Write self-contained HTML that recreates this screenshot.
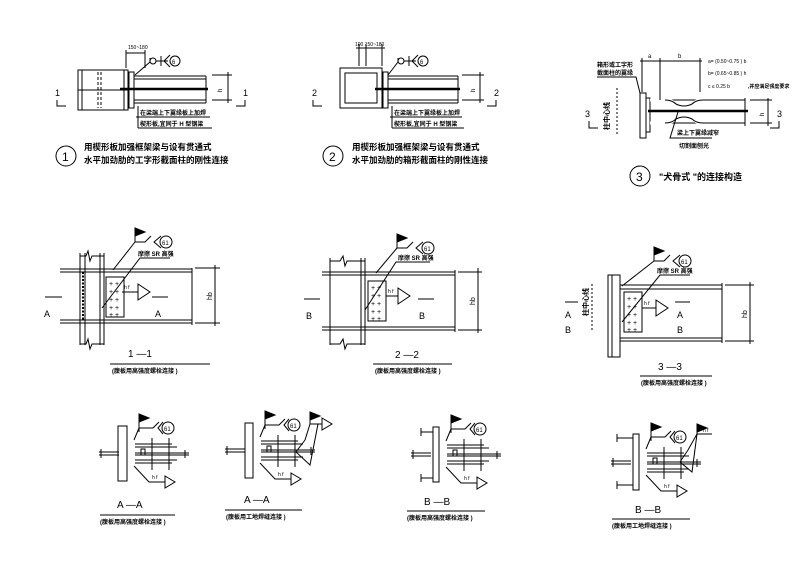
<!DOCTYPE html>
<html><head><meta charset="utf-8"><style>
html,body{margin:0;padding:0;background:#fff}
svg{display:block}
text{font-family:"Liberation Sans","Noto Sans CJK SC",sans-serif;fill:#000}
.c{font-family:"Liberation Sans","Noto Sans CJK SC",sans-serif;font-weight:bold}
</style></head><body>
<svg width="800" height="568" viewBox="0 0 800 568" xmlns="http://www.w3.org/2000/svg" stroke="#000" fill="none" stroke-width="1">
<!-- ===== Detail 1 ===== -->
<g>
<rect x="78" y="70" width="50" height="40"/>
<line x1="82" y1="70" x2="82" y2="110"/><line x1="124" y1="70" x2="124" y2="110"/>
<line x1="78" y1="90" x2="128" y2="90"/>
<line x1="98" y1="72" x2="98" y2="108" stroke-dasharray="3 2"/>
<line x1="101" y1="72" x2="101" y2="108" stroke-dasharray="3 2"/>
<rect x="129" y="72" width="5" height="36"/>
<line x1="134" y1="76" x2="206" y2="76"/><line x1="134" y1="79" x2="206" y2="79"/>
<line x1="134" y1="100" x2="206" y2="100"/><line x1="134" y1="103" x2="206" y2="103"/>
<line x1="120" y1="89" x2="208" y2="89" stroke-width="2.5"/>
<line x1="206" y1="76" x2="206" y2="103"/>
<line x1="212" y1="75" x2="232" y2="75"/><line x1="212" y1="100" x2="232" y2="100"/>
<line x1="228" y1="72" x2="228" y2="103"/>
<text x="222" y="92" font-size="6" stroke="none" transform="rotate(-90 222 92)">h</text>
<line x1="126" y1="50" x2="126" y2="68"/><line x1="145" y1="50" x2="145" y2="68"/>
<line x1="126" y1="53" x2="145" y2="53"/>
<text x="128" y="49" font-size="5" stroke="none">150~180</text>
<polyline points="135,75 150,62 150,58"/><circle cx="153" cy="61" r="3"/>
<line x1="156" y1="61" x2="168" y2="61"/><line x1="161" y1="56" x2="161" y2="66"/>
<polyline points="170,55 164,61 170,67"/><circle cx="175" cy="61" r="5"/>
<text x="172" y="64" font-size="6" stroke="none">6</text>
<line x1="138" y1="106" x2="138" y2="128"/>
<line x1="136" y1="117" x2="210" y2="117"/>
<line x1="138" y1="128" x2="212" y2="128"/>
<text x="140" y="115" font-size="6" class="c" stroke="none">在梁端上下翼缘板上加焊</text>
<text x="140" y="126" font-size="6" class="c" stroke="none">楔形板,宜同于  H 型钢梁</text>
<text x="55" y="96" font-size="9" stroke="none">1</text>
<polyline points="57,100 57,106 66,106"/>
<text x="243" y="96" font-size="9" stroke="none">1</text>
<polyline points="245,100 245,106 236,106"/>
<circle cx="66" cy="156" r="10"/><text x="62" y="161" font-size="12" stroke="none">1</text>
<text x="84" y="150" font-size="8.5" class="c" stroke="none">用楔形板加强框架梁与设有贯通式</text>
<text x="84" y="163" font-size="8.5" class="c" stroke="none">水平加劲肋的工字形截面柱的刚性连接</text>
</g>
<!-- ===== Detail 2 ===== -->
<g>
<rect x="340" y="68" width="42" height="40"/>
<rect x="345" y="73" width="32" height="30"/>
<rect x="383" y="72" width="5" height="36"/>
<line x1="388" y1="76" x2="458" y2="76"/><line x1="388" y1="79" x2="458" y2="79"/>
<line x1="388" y1="100" x2="458" y2="100"/><line x1="388" y1="103" x2="458" y2="103"/>
<line x1="375" y1="89" x2="460" y2="89" stroke-width="2.5"/>
<line x1="458" y1="76" x2="458" y2="103"/>
<line x1="462" y1="75" x2="484" y2="75"/><line x1="462" y1="100" x2="484" y2="100"/>
<line x1="480" y1="72" x2="480" y2="103"/>
<text x="475" y="92" font-size="6" stroke="none" transform="rotate(-90 475 92)">h</text>
<line x1="359" y1="44" x2="359" y2="66"/><line x1="366" y1="44" x2="366" y2="66"/><line x1="382" y1="44" x2="382" y2="66"/>
<line x1="356" y1="48" x2="385" y2="48"/>
<text x="355" y="46" font-size="5" stroke="none">100  150~180</text>
<polyline points="388,75 398,62 398,58"/><circle cx="401" cy="61" r="3"/>
<line x1="404" y1="61" x2="416" y2="61"/><line x1="409" y1="56" x2="409" y2="66"/>
<polyline points="418,55 412,61 418,67"/><circle cx="423" cy="61" r="5"/>
<text x="420" y="64" font-size="6" stroke="none">6</text>
<line x1="392" y1="106" x2="392" y2="128"/>
<line x1="390" y1="117" x2="462" y2="117"/>
<line x1="392" y1="128" x2="464" y2="128"/>
<text x="394" y="115" font-size="6" class="c" stroke="none">在梁端上下翼缘板上加焊</text>
<text x="394" y="126" font-size="6" class="c" stroke="none">楔形板,宜同于  H 型钢梁</text>
<text x="312" y="96" font-size="9" stroke="none">2</text>
<polyline points="313,100 313,106 322,106"/>
<text x="494" y="96" font-size="9" stroke="none">2</text>
<polyline points="496,100 496,106 487,106"/>
<circle cx="333" cy="156" r="10"/><text x="329" y="161" font-size="12" stroke="none">2</text>
<text x="352" y="150" font-size="8.5" class="c" stroke="none">用楔形板加强框架梁与设有贯通式</text>
<text x="352" y="163" font-size="8.5" class="c" stroke="none">水平加劲肋的箱形截面柱的刚性连接</text>
</g>
<!-- ===== Detail 3 ===== -->
<g>
<rect x="640" y="93" width="6" height="45"/>
<rect x="646" y="98" width="4" height="34"/>
<line x1="650" y1="100" x2="745" y2="100"/>
<line x1="650" y1="123" x2="745" y2="123"/>
<path d="M650,100 L665,100 Q672,100 676,104 Q684,108 692,104 Q696,100 703,100 M650,123 L665,123 Q672,123 676,119 Q684,115 692,119 Q696,123 703,123" stroke="#fff" stroke-width="3"/>
<path d="M665,100 Q672,100 676,104 Q684,108 692,104 Q696,100 703,100 M665,123 Q672,123 676,119 Q684,115 692,119 Q696,123 703,123"/>
<line x1="648" y1="111" x2="748" y2="111" stroke-width="2.5"/>
<line x1="745" y1="98" x2="745" y2="126"/>
<line x1="750" y1="100" x2="772" y2="100"/><line x1="750" y1="123" x2="772" y2="123"/>
<line x1="768" y1="98" x2="768" y2="126"/>
<text x="764" y="116" font-size="6" stroke="none" transform="rotate(-90 764 116)">h</text>
<line x1="642" y1="58" x2="642" y2="92"/><line x1="660" y1="58" x2="660" y2="100"/><line x1="700" y1="58" x2="700" y2="92"/>
<line x1="640" y1="61" x2="702" y2="61"/>
<text x="648" y="58" font-size="6" stroke="none">a</text><text x="678" y="58" font-size="6" stroke="none">b</text>
<text x="708" y="63" font-size="5" stroke="none">a= (0.50~0.75      ) b</text>
<text x="708" y="75" font-size="5" stroke="none">b= (0.65~0.85      ) h</text>
<text x="708" y="88" font-size="5" stroke="none">c ≤ 0.25   b</text>
<text x="748" y="88" font-size="5" class="c" stroke="none">,并应满足强度要求</text>
<text x="597" y="67" font-size="6" class="c" stroke="none">箱形或工字形</text>
<text x="597" y="75" font-size="6" class="c" stroke="none">截面柱的翼缘</text>
<polyline points="597,77 636,77 640,93"/>
<line x1="617" y1="88" x2="617" y2="136" stroke-dasharray="2 2"/>
<text x="609" y="130" font-size="7" class="c" stroke="none" transform="rotate(-90 609 130)">柱中心线</text>
<text x="585" y="117" font-size="9" stroke="none">3</text>
<polyline points="589,121 589,128 598,128"/>
<text x="777" y="117" font-size="9" stroke="none">3</text>
<polyline points="779,121 779,128 770,128"/>
<polyline points="678,112 670,138 712,138"/>
<text x="677" y="135" font-size="6" class="c" stroke="none">梁上下翼缘减窄</text>
<text x="679" y="148" font-size="6" class="c" stroke="none">切割面刨光</text>
<circle cx="640" cy="176" r="10"/><text x="636" y="181" font-size="12" stroke="none">3</text>
<text x="659" y="180" font-size="9" class="c" stroke="none">"犬骨式  "的连接构造</text>
</g>
<!-- ===== Middle details template ===== -->
<defs>
<g id="plate">
<rect x="0" y="0" width="18" height="40"/>
<text x="3" y="9" font-size="7" stroke="none">+ +</text>
<text x="3" y="17" font-size="7" stroke="none">+ +</text>
<text x="3" y="25" font-size="7" stroke="none">+ +</text>
<text x="3" y="33" font-size="7" stroke="none">+ +</text>
<text x="3" y="40" font-size="7" stroke="none">+ +</text>
</g>
<g id="flag">
<line x1="0" y1="0" x2="0" y2="14"/><path d="M0,0 L10,4 L0,8Z" fill="#000"/>
<polyline points="0,14 10,14 16,8"/>
<polyline points="26,8 19,14 26,20"/><circle cx="31" cy="14" r="6"/>
<text x="27" y="17" font-size="6" stroke="none">61</text>
</g>
</defs>
<!-- 1-1 -->
<g>
<line x1="80" y1="253" x2="80" y2="345"/><line x1="85" y1="253" x2="85" y2="345"/>
<line x1="100" y1="253" x2="100" y2="345"/><line x1="104" y1="253" x2="104" y2="345"/>
<polyline points="80,256 86,256 88,251 90,261 92,256 104,256"/>
<polyline points="80,344 86,344 88,339 90,349 92,344 104,344"/>
<line x1="83" y1="272" x2="83" y2="320" stroke-dasharray="2 1.5" stroke-width="2"/>
<line x1="60" y1="269" x2="192" y2="269"/><line x1="60" y1="272" x2="192" y2="272"/>
<line x1="60" y1="320" x2="192" y2="320"/><line x1="60" y1="323" x2="192" y2="323"/>
<line x1="192" y1="268" x2="192" y2="325"/>
<line x1="195" y1="268" x2="220" y2="268"/><line x1="195" y1="323" x2="220" y2="323"/>
<line x1="215" y1="265" x2="215" y2="326"/>
<text x="212" y="300" font-size="7" stroke="none" transform="rotate(-90 212 300)">hb</text>
<use href="#plate" x="106" y="277"/>
<use href="#flag" x="135" y="228"/>
<line x1="135" y1="242" x2="113" y2="270"/>
<polyline points="102,308 140,258 170,258"/>
<text x="138" y="256" font-size="6" class="c" stroke="none">摩擦 SR  高强</text>
<line x1="122" y1="292" x2="138" y2="292"/><path d="M138,284 L150,292 L138,300Z"/>
<text x="124" y="289" font-size="5" stroke="none">h f</text>
<line x1="45" y1="297" x2="62" y2="297"/><text x="44" y="317" font-size="9" stroke="none">A</text>
<line x1="152" y1="297" x2="168" y2="297"/><text x="155" y="317" font-size="9" stroke="none">A</text>
<text x="128" y="357" font-size="10" stroke="none">1 —1</text>
<line x1="110" y1="364" x2="210" y2="364"/>
<text x="112" y="373" font-size="6" class="c" stroke="none">(腹板用高强度螺栓连接          )</text>
</g>
<!-- 2-2 -->
<g>
<line x1="330" y1="258" x2="330" y2="345"/><line x1="361" y1="258" x2="361" y2="345"/><line x1="365" y1="258" x2="365" y2="345"/>
<polyline points="330,261 340,261 343,256 345,266 347,261 365,261"/>
<polyline points="330,344 340,344 343,339 345,349 347,344 365,344"/>
<line x1="322" y1="272" x2="455" y2="272"/><line x1="322" y1="275" x2="455" y2="275"/>
<line x1="322" y1="327" x2="455" y2="327"/><line x1="322" y1="330" x2="455" y2="330"/>
<line x1="455" y1="270" x2="455" y2="332"/>
<line x1="458" y1="272" x2="482" y2="272"/><line x1="458" y1="330" x2="482" y2="330"/>
<line x1="478" y1="268" x2="478" y2="333"/>
<text x="475" y="305" font-size="7" stroke="none" transform="rotate(-90 475 305)">hb</text>
<use href="#plate" x="368" y="281"/>
<use href="#flag" x="397" y="234"/>
<line x1="397" y1="248" x2="376" y2="273"/>
<polyline points="365,310 396,262 430,262"/>
<text x="398" y="260" font-size="6" class="c" stroke="none">摩擦 SR  高强</text>
<line x1="386" y1="296" x2="398" y2="296"/><path d="M398,288 L410,296 L398,304Z"/>
<text x="388" y="293" font-size="5" stroke="none">h f</text>
<line x1="304" y1="299" x2="320" y2="299"/><text x="306" y="319" font-size="9" stroke="none">B</text>
<line x1="418" y1="299" x2="434" y2="299"/><text x="419" y="319" font-size="9" stroke="none">B</text>
<text x="395" y="358" font-size="10" stroke="none">2 —2</text>
<line x1="373" y1="364" x2="452" y2="364"/>
<text x="375" y="373" font-size="6" class="c" stroke="none">(腹板用高强度螺栓连接      )</text>
</g>
<!-- 3-3 -->
<g>
<rect x="608" y="275" width="12" height="82"/>
<line x1="612" y1="275" x2="612" y2="357"/>
<line x1="620" y1="285" x2="722" y2="285"/><line x1="620" y1="289" x2="722" y2="289"/>
<line x1="620" y1="338" x2="722" y2="338"/><line x1="620" y1="341" x2="722" y2="341"/>
<line x1="722" y1="283" x2="722" y2="343"/>
<line x1="725" y1="285" x2="754" y2="285"/><line x1="725" y1="341" x2="754" y2="341"/>
<line x1="750" y1="282" x2="750" y2="344"/>
<text x="747" y="318" font-size="7" stroke="none" transform="rotate(-90 747 318)">hb</text>
<use href="#plate" x="624" y="292"/>
<use href="#flag" x="654" y="247"/>
<line x1="654" y1="261" x2="622" y2="286"/>
<polyline points="622,322 660,275 690,275"/>
<text x="657" y="273" font-size="6" class="c" stroke="none">摩擦 SR  高强</text>
<line x1="642" y1="308" x2="656" y2="308"/><path d="M656,300 L668,308 L656,316Z"/>
<text x="644" y="305" font-size="5" stroke="none">h f</text>
<line x1="592" y1="284" x2="592" y2="330" stroke-dasharray="2 2"/>
<text x="588" y="316" font-size="7" class="c" stroke="none" transform="rotate(-90 588 316)">柱中心线</text>
<line x1="565" y1="302" x2="578" y2="302"/>
<text x="565" y="318" font-size="9" stroke="none">A</text><text x="565" y="333" font-size="9" stroke="none">B</text>
<line x1="675" y1="302" x2="690" y2="302"/>
<text x="677" y="318" font-size="9" stroke="none">A</text><text x="677" y="333" font-size="9" stroke="none">B</text>
<text x="658" y="370" font-size="10" stroke="none">3 —3</text>
<line x1="640" y1="376" x2="712" y2="376"/>
<text x="641" y="385" font-size="6" class="c" stroke="none">(腹板用高强度螺栓连接    )</text>
</g>
<!-- ===== Bottom details ===== -->
<defs>
<g id="bot">
<line x1="-28" y1="0" x2="-8" y2="0"/><line x1="-28" y1="3" x2="-8" y2="3"/>
<line x1="-26" y1="-3" x2="-26" y2="6"/>
<line x1="8" y1="-8" x2="45" y2="-8"/><line x1="8" y1="-5" x2="50" y2="-5"/>
<line x1="8" y1="8" x2="50" y2="8"/><line x1="8" y1="11" x2="45" y2="11"/>
<line x1="8" y1="1" x2="62" y2="1"/><line x1="8" y1="3" x2="62" y2="3"/>
<line x1="58" y1="-2" x2="58" y2="6"/>
<line x1="25" y1="-14" x2="25" y2="18"/><line x1="42" y1="-14" x2="42" y2="18"/>
<rect x="14" y="-3" width="4" height="6"/>
<line x1="12" y1="-20" x2="12" y2="-38"/><path d="M12,-38 L22,-34 L12,-30Z" fill="#000"/>
<polyline points="12,-24 26,-24 32,-30"/>
<polyline points="36,-30 31,-24 36,-18"/><circle cx="41" cy="-24" r="6"/>
<text x="37" y="-21" font-size="6" stroke="none">61</text>
<line x1="12" y1="-24" x2="7" y2="-12"/>
<polyline points="7,14 22,30 38,30"/><path d="M38,24 L48,30 L38,36Z"/>
<text x="25" y="27" font-size="5" stroke="none">h f</text>
</g>
</defs>
<!-- A-A left -->
<g>
<rect x="118" y="426" width="9" height="55"/>
<use href="#bot" x="127" y="452"/>
<text x="117" y="508" font-size="10" stroke="none">A —A</text>
<line x1="100" y1="515" x2="175" y2="515"/>
<text x="100" y="524" font-size="6" class="c" stroke="none">(腹板用高强度螺栓连接       )</text>
</g>
<!-- A-A second -->
<g>
<rect x="245" y="423" width="8" height="55"/>
<use href="#bot" x="253" y="449"/>
<polyline points="305,440 310,424 322,424"/><path d="M322,418 L332,424 L322,430Z"/>
<line x1="310" y1="424" x2="310" y2="412"/><path d="M310,412 L320,416 L310,420Z" fill="#000"/>
<polyline points="305,440 296,452 310,465 318,424"/>
<text x="244" y="503" font-size="10" stroke="none">A —A</text>
<line x1="225" y1="510" x2="302" y2="510"/>
<text x="226" y="519" font-size="6" class="c" stroke="none">(腹板用工地焊缝连接     )</text>
</g>
<!-- B-B left -->
<g>
<rect x="433" y="427" width="6" height="55"/>
<polyline points="421,432 433,432"/><line x1="421" y1="428" x2="421" y2="436"/>
<polyline points="421,478 433,478"/><line x1="421" y1="474" x2="421" y2="482"/>
<use href="#bot" x="439" y="453"/>
<text x="424" y="505" font-size="10" stroke="none">B —B</text>
<line x1="407" y1="511" x2="485" y2="511"/>
<text x="407" y="520" font-size="6" class="c" stroke="none">(腹板用高强度螺栓连接      )</text>
</g>
<!-- B-B right -->
<g>
<rect x="633" y="434" width="6" height="56"/>
<polyline points="617,438 633,438"/><line x1="617" y1="434" x2="617" y2="442"/>
<polyline points="617,485 633,485"/><line x1="617" y1="481" x2="617" y2="489"/>
<use href="#bot" x="639" y="461"/>
<polyline points="688,450 697,434 712,434"/>
<line x1="697" y1="434" x2="697" y2="424"/><path d="M697,424 L707,428 L697,432Z" fill="#000"/>
<text x="703" y="432" font-size="5" stroke="none">h f</text>
<polyline points="688,450 680,462 692,472 697,434"/>
<text x="635" y="513" font-size="10" stroke="none">B —B</text>
<line x1="612" y1="519" x2="690" y2="519"/>
<text x="612" y="528" font-size="6" class="c" stroke="none">(腹板用工地焊缝连接      )</text>
</g>
</svg>
</body></html>
